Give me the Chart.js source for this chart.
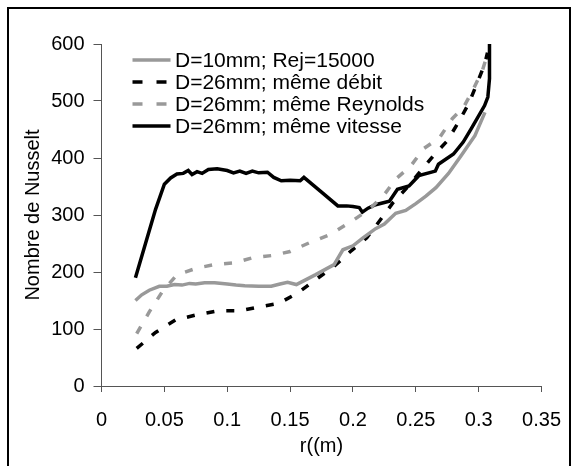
<!DOCTYPE html>
<html>
<head>
<meta charset="utf-8">
<script src="https://cdn.jsdelivr.net/npm/chart.js@4.4.1/dist/chart.umd.min.js"></script>
<style>
  html, body { margin: 0; padding: 0; background: #fff; overflow: hidden; }
  #wrap { position: relative; width: 577px; height: 466px; }
</style>
</head>
<body>
<div id="wrap"><canvas id="nusseltChart" width="577" height="466"></canvas></div>
<script>
// tick labels
const xTicks = [0, 0.05, 0.1, 0.15, 0.2, 0.25, 0.3, 0.35];
const xTickLabels = ['0', '0.05', '0.1', '0.15', '0.2', '0.25', '0.3', '0.35'];
const yTicks = [0, 100, 200, 300, 400, 500, 600];
const yTickLabels = ['0', '100', '200', '300', '400', '500', '600'];

const seriesNames = ['D=10mm; Rej=15000', 'D=26mm; même débit', 'D=26mm; même Reynolds', 'D=26mm; même vitesse'];

// D=10mm; Rej=15000
const r10 = [0.027, 0.032, 0.038, 0.046, 0.052, 0.058, 0.064, 0.070, 0.075, 0.082, 0.090, 0.100, 0.107, 0.114, 0.125, 0.135, 0.142, 0.148, 0.155, 0.170, 0.185, 0.192, 0.200, 0.208, 0.218, 0.225, 0.234, 0.242, 0.250, 0.258, 0.266, 0.276, 0.286, 0.297, 0.305];
const nu10 = [150, 160, 168, 175, 175, 178, 177, 180, 179, 181, 181, 179, 177, 176, 175, 175, 179, 182, 178, 195, 213, 239, 246, 260, 276, 284, 303, 308, 320, 333, 348, 373, 404, 439, 480];

// D=26mm; même débit
const rDebit = [0.028, 0.043, 0.059, 0.076, 0.093, 0.110, 0.126, 0.141, 0.156, 0.170, 0.185, 0.198, 0.211, 0.222, 0.232, 0.243, 0.252, 0.264, 0.275, 0.284, 0.292, 0.298, 0.305, 0.307];
const nuDebit = [66, 94, 116, 125, 132, 132, 139, 145, 163, 186, 210, 236, 260, 292, 322, 348, 372, 404, 430, 463, 495, 527, 566, 585];

// D=26mm; même Reynolds
const rRey = [0.028, 0.038, 0.0485, 0.060, 0.076, 0.090, 0.106, 0.120, 0.136, 0.150, 0.165, 0.182, 0.199, 0.213, 0.225, 0.234, 0.246, 0.256, 0.269, 0.279, 0.288, 0.296, 0.303, 0.306];
const nuRey = [92, 130, 166, 195, 207, 213, 216, 225, 229, 236, 251, 266, 289, 310, 336, 363, 386, 416, 436, 469, 489, 522, 554, 575];

// D=26mm; même vitesse
const rVit = [0.027, 0.035, 0.043, 0.050, 0.055, 0.060, 0.065, 0.069, 0.072, 0.076, 0.080, 0.085, 0.092, 0.100, 0.105, 0.110, 0.115, 0.120, 0.125, 0.132, 0.137, 0.143, 0.150, 0.158, 0.161, 0.175, 0.188, 0.195, 0.200, 0.205, 0.2075, 0.212, 0.218, 0.225, 0.229, 0.2354, 0.2446, 0.2524, 0.2655, 0.268, 0.280, 0.2877, 0.294, 0.3047, 0.3073, 0.3086, 0.3086];
const nuVit = [190, 250, 310, 354, 365, 372, 373, 378, 371, 376, 373, 380, 381, 378, 374, 377, 373, 377, 374, 375, 366, 360, 361, 360, 366, 340, 316, 316, 315, 313, 305, 312, 318, 322, 324, 345, 351, 369, 377, 389, 407, 428, 451, 492, 507, 539, 602];

const GRAY = '#999999';
const FONT = "'Liberation Sans', Arial, sans-serif";

function pts(xs, ys) {
    return xs.map((x, i) => ({ x: x, y: ys[i] }));
}

// legend drawn inside the plot area, like the Excel original
const insideLegend = {
    id: 'insideLegend',
    afterDraw(chart) {
        const ctx = chart.ctx;
        const a = chart.chartArea;
        ctx.save();
        ctx.font = '21px ' + FONT;
        ctx.textBaseline = 'middle';
        ctx.fillStyle = '#000';
        chart.data.datasets.forEach((ds, i) => {
            const y = a.top + 16 + i * 22;
            ctx.beginPath();
            ctx.strokeStyle = ds.borderColor;
            ctx.lineWidth = 3.5;
            ctx.setLineDash(ds.borderDash && ds.borderDash.length ? [10, 14] : []);
            ctx.moveTo(a.left + 31, y);
            ctx.lineTo(a.left + 69, y);
            ctx.stroke();
            ctx.fillText(ds.label, a.left + 73.5, y + 1);
        });
        ctx.restore();
    }
};

// outer frame
const frame = {
    id: 'frame',
    afterDraw(chart) {
        const ctx = chart.ctx;
        ctx.save();
        ctx.strokeStyle = '#000';
        ctx.lineWidth = 2;
        ctx.beginPath();
        ctx.moveTo(8, 470);
        ctx.lineTo(8, 8);
        ctx.lineTo(570, 8);
        ctx.lineTo(570, 470);
        ctx.stroke();
        ctx.restore();
    }
};

const ctx = document.getElementById('nusseltChart').getContext('2d');
new Chart(ctx, {
    type: 'line',
    data: {
        datasets: [
            { label: seriesNames[0], data: pts(r10, nu10), borderColor: GRAY, borderWidth: 3.5 },
            { label: seriesNames[1], data: pts(rDebit, nuDebit), borderColor: '#000', borderWidth: 3.5, borderDash: [8, 12] },
            { label: seriesNames[2], data: pts(rRey, nuRey), borderColor: GRAY, borderWidth: 3.5, borderDash: [8, 12] },
            { label: seriesNames[3], data: pts(rVit, nuVit), borderColor: '#000', borderWidth: 3.5 }
        ]
    },
    options: {
        responsive: false,
        animation: false,
        devicePixelRatio: 1,
        parsing: false,
        elements: { point: { radius: 0 }, line: { tension: 0, borderCapStyle: 'butt' } },
        layout: { padding: { left: 0, top: 44, right: 29, bottom: 0 } },
        plugins: { legend: { display: false }, tooltip: { enabled: false } },
        scales: {
            x: {
                type: 'linear',
                min: 0,
                max: 0.35,
                afterBuildTicks: s => { s.ticks = xTicks.map(v => ({ value: v })); },
                afterFit: s => { s.height = 80; },
                ticks: {
                    callback: (v, i) => xTickLabels[i],
                    color: '#000',
                    font: { family: FONT, size: 20 },
                    padding: 16,
                    maxRotation: 0,
                    autoSkip: false
                },
                grid: { drawOnChartArea: false, drawTicks: true, tickLength: 6, color: '#555' },
                border: { display: true, color: '#555', width: 1 },
                title: { display: true, text: 'r((m)', color: '#000', font: { family: FONT, size: 20 }, padding: { top: 0, bottom: 8 } }
            },
            y: {
                type: 'linear',
                min: 0,
                max: 600,
                afterBuildTicks: s => { s.ticks = yTicks.map(v => ({ value: v })); },
                afterFit: s => { s.width = 101.5; },
                ticks: {
                    callback: (v, i) => yTickLabels[i],
                    color: '#000',
                    font: { family: FONT, size: 20 },
                    padding: 9
                },
                grid: { drawOnChartArea: false, drawTicks: true, tickLength: 8, color: '#555' },
                border: { display: true, color: '#555', width: 1 },
                title: { display: true, text: 'Nombre de Nusselt', color: '#000', font: { family: FONT, size: 20 }, padding: { top: 21, bottom: 0 } }
            }
        }
    },
    plugins: [insideLegend, frame]
});
</script>
</body>
</html>
